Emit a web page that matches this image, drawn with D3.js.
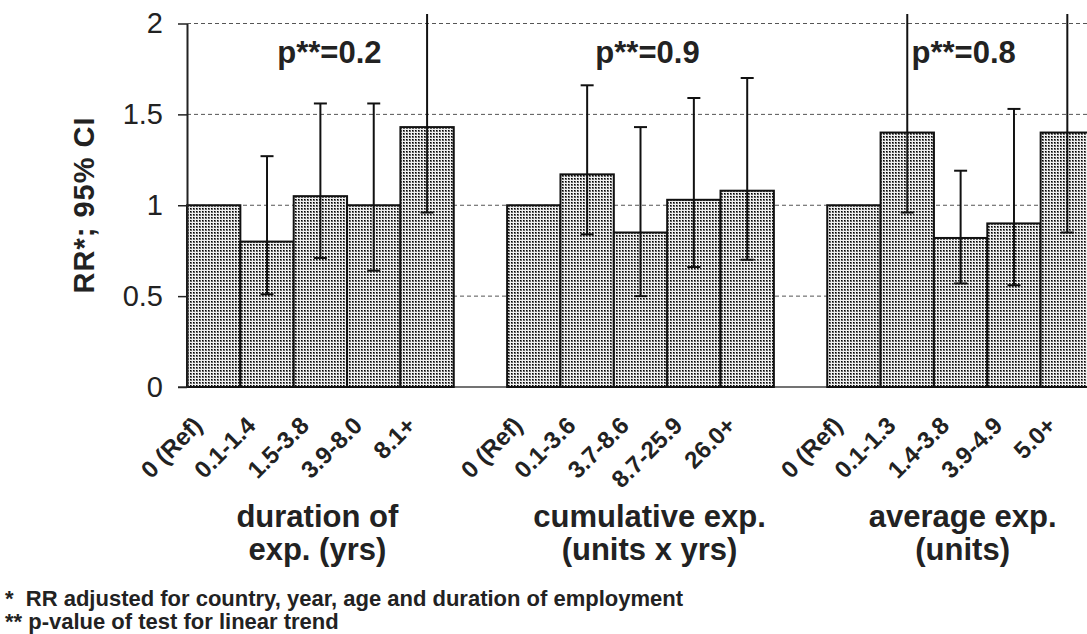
<!DOCTYPE html>
<html>
<head>
<meta charset="utf-8">
<script src="https://cdn.jsdelivr.net/npm/d3@7"></script>
<style>
  body { margin: 0; background: #fff; }
  svg { display: block; font-family: "Liberation Sans", Arial, sans-serif; }
</style>
</head>
<body>
<div id="chart"></div>
<script>
// values
var groupTitles = [["duration of", "exp. (yrs)"], ["cumulative exp.", "(units x yrs)"], ["average exp.", "(units)"]];
var pLabels = ["p**=0.2", "p**=0.9", "p**=0.8"];

var durLabels = ["0 (Ref)", "0.1-1.4", "1.5-3.8", "3.9-8.0", "8.1+"];
var durRR   = [1.0, 0.80, 1.05, 1.0, 1.43];
var durLow  = [null, 0.51, 0.71, 0.64, 0.96];
var durHigh = [null, 1.27, 1.56, 1.56, 2.4];

var cumLabels = ["0 (Ref)", "0.1-3.6", "3.7-8.6", "8.7-25.9", "26.0+"];
var cumRR   = [1.0, 1.17, 0.85, 1.03, 1.08];
var cumLow  = [null, 0.84, 0.50, 0.66, 0.70];
var cumHigh = [null, 1.66, 1.43, 1.59, 1.70];

var avgLabels = ["0 (Ref)", "0.1-1.3", "1.4-3.8", "3.9-4.9", "5.0+"];
var avgRR   = [1.0, 1.40, 0.82, 0.90, 1.40];
var avgLow  = [null, 0.96, 0.57, 0.56, 0.85];
var avgHigh = [null, 2.4, 1.19, 1.53, 2.4];

var yTicks = [0, 0.5, 1, 1.5, 2];
var footnotes = ["*  RR adjusted for country, year, age and duration of employment",
                 "** p-value of test for linear trend"];

var svgWidth = 1087;
var svgHeight = 634;
var axisX = 187;
var plotRight = 1094;
var baseY = 387;
var topY = 23.5;
var clipTop = 14;
// small horizontal nudges of the texts above / below each group
var pShift = [9, 7, 3];
var titleShift = [-3, 9, 2];

// build the slot list: 5 bars per group, one empty slot between groups
var groups = [
    {labels: durLabels, rr: durRR, lo: durLow, hi: durHigh},
    {labels: cumLabels, rr: cumRR, lo: cumLow, hi: cumHigh},
    {labels: avgLabels, rr: avgRR, lo: avgLow, hi: avgHigh}
];
var bars = [];
var slots = [];
groups.forEach(function(g, gi) {
    g.labels.forEach(function(l, i) {
        var key = gi + "-" + i;
        slots.push(key);
        bars.push({key: key, group: gi, label: l, rr: g.rr[i], lo: g.lo[i], hi: g.hi[i]});
    });
    if (gi < groups.length - 1) slots.push("gap" + gi);
});

var xScale = d3.scaleBand().domain(slots).range([axisX, plotRight]).padding(0);
var yScale = d3.scaleLinear().domain([0, 2]).range([baseY, topY]);
var yMaxShown = yScale.invert(clipTop);

var svg = d3.select("#chart")
    .append("svg")
    .attr("width", svgWidth)
    .attr("height", svgHeight);

// dotted screen fill of the bars
var defs = svg.append("defs");
var pat = defs.append("pattern")
    .attr("id", "dots")
    .attr("patternUnits", "userSpaceOnUse")
    .attr("width", 3)
    .attr("height", 3);
pat.append("rect").attr("width", 3).attr("height", 3).attr("fill", "#f0f0f0");
pat.append("rect").attr("x", 1).attr("y", 1).attr("width", 2).attr("height", 2).attr("fill", "#666");
pat.append("rect").attr("x", 1).attr("y", 1).attr("width", 1).attr("height", 1).attr("fill", "#000");

// dashed grid lines
svg.append("g")
    .selectAll("line")
    .data(yTicks.filter(function(d) { return d > 0; }))
    .enter()
    .append("line")
    .attr("x1", axisX)
    .attr("x2", svgWidth)
    .attr("y1", function(d) { return yScale(d); })
    .attr("y2", function(d) { return yScale(d); })
    .attr("stroke", "#555")
    .attr("stroke-width", 1)
    .attr("stroke-dasharray", "4,3");

// baseline
svg.append("line")
    .attr("x1", axisX - 9)
    .attr("x2", svgWidth)
    .attr("y1", yScale(0))
    .attr("y2", yScale(0))
    .attr("stroke", "#444")
    .attr("stroke-width", 1.5);

// bars
svg.append("g")
    .selectAll("rect")
    .data(bars)
    .enter()
    .append("rect")
    .attr("x", function(d) { return xScale(d.key); })
    .attr("y", function(d) { return yScale(d.rr); })
    .attr("width", xScale.bandwidth())
    .attr("height", function(d) { return yScale(0) - yScale(d.rr); })
    .attr("fill", "url(#dots)")
    .attr("stroke", "#111")
    .attr("stroke-width", 2);

// error bars
var capW = 13;
var errs = svg.append("g")
    .selectAll("g")
    .data(bars.filter(function(d) { return d.lo != null; }))
    .enter()
    .append("g")
    .attr("stroke", "#111")
    .attr("stroke-width", 2);
errs.append("line")
    .attr("x1", function(d) { return xScale(d.key) + xScale.bandwidth() / 2; })
    .attr("x2", function(d) { return xScale(d.key) + xScale.bandwidth() / 2; })
    .attr("y1", function(d) { return yScale(d.lo); })
    .attr("y2", function(d) { return yScale(Math.min(d.hi, yMaxShown)); });
errs.append("line")
    .attr("x1", function(d) { return xScale(d.key) + xScale.bandwidth() / 2 - capW / 2; })
    .attr("x2", function(d) { return xScale(d.key) + xScale.bandwidth() / 2 + capW / 2; })
    .attr("y1", function(d) { return yScale(d.lo); })
    .attr("y2", function(d) { return yScale(d.lo); });
errs.filter(function(d) { return d.hi <= 2; })
    .append("line")
    .attr("x1", function(d) { return xScale(d.key) + xScale.bandwidth() / 2 - capW / 2; })
    .attr("x2", function(d) { return xScale(d.key) + xScale.bandwidth() / 2 + capW / 2; })
    .attr("y1", function(d) { return yScale(d.hi); })
    .attr("y2", function(d) { return yScale(d.hi); });

// y axis
var yAxisCall = d3.axisLeft(yScale)
    .tickValues(yTicks)
    .tickSize(9)
    .tickSizeOuter(0)
    .tickPadding(15)
    .tickFormat(function(d) { return String(d); });
var yAxisGroup = svg.append("g")
    .attr("transform", "translate(" + axisX + ",0)")
    .call(yAxisCall);
yAxisGroup.select(".domain").attr("stroke", "#222").attr("stroke-width", 2);
yAxisGroup.selectAll(".tick line").attr("stroke", "#222").attr("stroke-width", 1.5);
yAxisGroup.selectAll("text")
    .attr("font-size", "29px")
    .attr("font-family", "'Liberation Sans', Arial, sans-serif")
    .attr("fill", "#222");

// y axis title
svg.append("text")
    .attr("transform", "translate(94,205) rotate(-90)")
    .attr("text-anchor", "middle")
    .attr("font-size", "29px")
    .attr("font-weight", "bold")
    .attr("letter-spacing", "1px")
    .attr("fill", "#222")
    .text("RR*; 95% CI");

// x axis (category labels)
var xAxisCall = d3.axisBottom(xScale)
    .tickValues(bars.map(function(d) { return d.key; }))
    .tickSize(0)
    .tickFormat(function(k) { return bars.find(function(b) { return b.key === k; }).label; });
var xAxisGroup = svg.append("g")
    .attr("transform", "translate(0," + baseY + ")")
    .call(xAxisCall);
xAxisGroup.select(".domain").remove();
xAxisGroup.selectAll("text")
    .attr("y", null)
    .attr("dy", null)
    .attr("text-anchor", "end")
    .attr("transform", "translate(-10,40) rotate(-45)")
    .attr("font-size", "24px")
    .attr("font-weight", "bold")
    .attr("font-family", "'Liberation Sans', Arial, sans-serif")
    .attr("fill", "#222");

// group centres
function groupCenter(gi) {
    var first = xScale(gi + "-0");
    var last = xScale(gi + "-4") + xScale.bandwidth();
    return (first + last) / 2;
}

// p-value labels
svg.append("g")
    .selectAll("text")
    .data(pLabels)
    .enter()
    .append("text")
    .attr("x", function(d, i) { return groupCenter(i) + pShift[i]; })
    .attr("y", 63)
    .attr("text-anchor", "middle")
    .attr("font-size", "31px")
    .attr("font-weight", "bold")
    .attr("fill", "#222")
    .text(function(d) { return d; });

// group titles under the axis
var titles = svg.append("g")
    .selectAll("text")
    .data(groupTitles)
    .enter()
    .append("text")
    .attr("text-anchor", "middle")
    .attr("font-size", "31px")
    .attr("font-weight", "bold")
    .attr("fill", "#222");
titles.each(function(lines, i) {
    var t = d3.select(this);
    lines.forEach(function(l, j) {
        t.append("tspan")
            .attr("x", groupCenter(i) + titleShift[i])
            .attr("y", 527 + j * 33)
            .text(l);
    });
});

// footnotes
svg.append("g")
    .selectAll("text")
    .data(footnotes)
    .enter()
    .append("text")
    .attr("x", 5)
    .attr("y", function(d, i) { return 606 + i * 23; })
    .attr("font-size", "22px")
    .attr("font-weight", "bold")
    .attr("fill", "#222")
    .style("white-space", "pre")
    .text(function(d) { return d; });
</script>
</body>
</html>
